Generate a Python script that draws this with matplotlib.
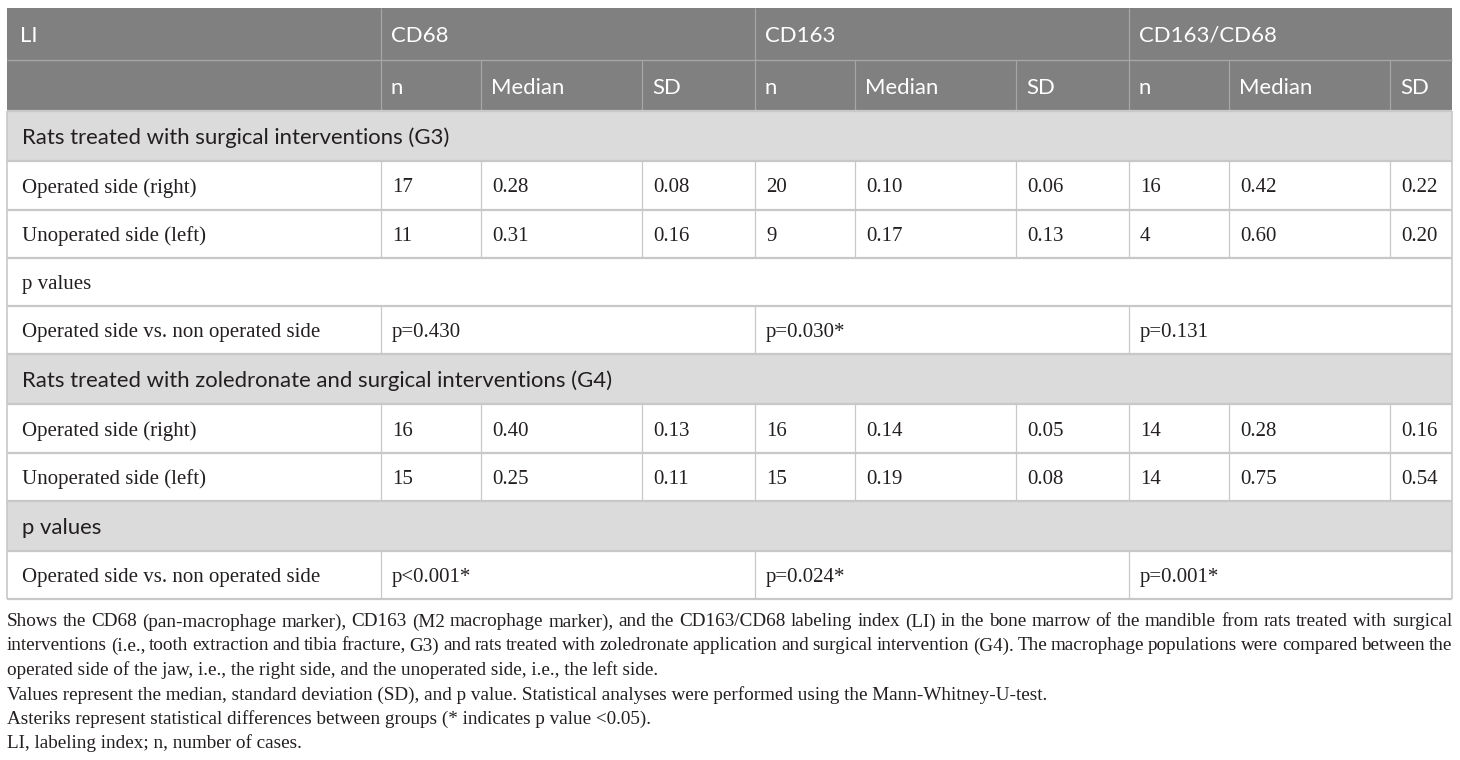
import matplotlib
matplotlib.use('Agg')
import matplotlib.pyplot as plt
from matplotlib import font_manager
from matplotlib.font_manager import FontProperties
from matplotlib.textpath import TextPath

# ---- table content ----
groups = ['CD68', 'CD163', 'CD163/CD68']
sub_cols = ['n', 'Median', 'SD']
row_labels = ['Operated side (right)', 'Unoperated side (left)']

g3_title = 'Rats treated with surgical interventions (G3)'
g3_n = [[17, 20, 16], [11, 9, 4]]
g3_median = [['0.28', '0.10', '0.42'], ['0.31', '0.17', '0.60']]
g3_sd = [['0.08', '0.06', '0.22'], ['0.16', '0.13', '0.20']]
g3_p = ['p=0.430', 'p=0.030*', 'p=0.131']

g4_title = 'Rats treated with zoledronate and surgical interventions (G4)'
g4_n = [[16, 16, 14], [15, 15, 14]]
g4_median = [['0.40', '0.14', '0.28'], ['0.25', '0.19', '0.75']]
g4_sd = [['0.13', '0.05', '0.16'], ['0.11', '0.08', '0.54']]
g4_p = ['p<0.001*', 'p=0.024*', 'p=0.001*']

p_label = 'p values'
cmp_label = 'Operated side vs. non operated side'

caption = [
    'Shows the CD68 (pan-macrophage marker), CD163 (M2 macrophage marker), and the CD163/CD68 labeling index (LI) in the bone marrow of the mandible from rats treated with surgical',
    'interventions (i.e., tooth extraction and tibia fracture, G3) and rats treated with zoledronate application and surgical intervention (G4). The macrophage populations were compared between the',
    'operated side of the jaw, i.e., the right side, and the unoperated side, i.e., the left side.',
    'Values represent the median, standard deviation (SD), and p value. Statistical analyses were performed using the Mann-Whitney-U-test.',
    'Asteriks represent statistical differences between groups (* indicates p value <0.05).',
    'LI, labeling index; n, number of cases.',
]
justified = [True, True, False, False, False, False]

# ---- layout (pixels) ----
W, H = 1460, 760
left, right = 7, 1452
col_x = [7, 381, 481, 642, 755, 855, 1016, 1129, 1229, 1390, 1452]
row_y = [8, 60, 111, 161, 210, 258, 306, 354, 404, 453, 501, 551, 599]
cap_y = [620, 644, 668, 693, 717, 741]

HEAD_BG = '#808080'
BAND_BG = '#dbdbdb'
LINE = '#c8c8c8'
HEAD_LINE = '#a6a6a6'
TXT = '#231f20'


def pick_family(candidates):
    names = {f.name for f in font_manager.fontManager.ttflist}
    for c in candidates:
        if c in names:
            return c
    return candidates[-1]


SANS = pick_family(['Liberation Sans Narrow', 'Lato', 'Open Sans'])
SERIF = 'Liberation Serif'


def fit_size(s, family, target_px):
    # font size (pt) that gives the text a given width in pixels at dpi 100
    w = TextPath((0, 0), s, size=100, prop=FontProperties(family=family)).get_extents().width
    return target_px * 72.0 / 100.0 / (w / 100.0)


sans_fs = fit_size(g4_title, SANS, 588)
serif_fs = fit_size(cmp_label, SERIF, 296)
cap_fs = fit_size(caption[3], SERIF, 1040)

fig = plt.figure(figsize=(W / 100, H / 100), dpi=100)
ax = fig.add_axes([0, 0, 1, 1])
ax.set_xlim(0, W)
ax.set_ylim(H, 0)
ax.axis('off')


def fill(y0, y1, color, x0=left, x1=right):
    ax.fill_between([x0, x1], y0, y1, color=color, lw=0, zorder=0)


def hline(y, color=LINE, lw=1.6, x0=left, x1=right):
    ax.plot([x0, x1], [y, y], color=color, lw=lw, zorder=2, solid_capstyle='butt')


def vline(x, y0, y1, color=LINE, lw=0.9):
    ax.plot([x, x], [y0, y1], color=color, lw=lw, zorder=2, solid_capstyle='butt')


def cell_text(col, r, s, family=SERIF, size=None, color=TXT, pad=11):
    if size is None:
        size = serif_fs
    y = (row_y[r] + row_y[r + 1]) / 2.0
    ax.text(col_x[col] + pad, y, s, family=family, fontsize=size, color=color,
            ha='left', va='center_baseline', zorder=3)


# header
fill(row_y[0], row_y[2], HEAD_BG)
hline(row_y[1], color=HEAD_LINE, lw=1.0)
for c in (1, 4, 7):
    vline(col_x[c], row_y[0], row_y[2], color=HEAD_LINE)
for c in (2, 3, 5, 6, 8, 9):
    vline(col_x[c], row_y[1], row_y[2], color=HEAD_LINE)
cell_text(0, 0, 'LI', family=SANS, size=sans_fs, color='white', pad=13)
for i, g in enumerate(groups):
    cell_text(1 + 3 * i, 0, g, family=SANS, size=sans_fs, color='white', pad=10)
    for j, sc in enumerate(sub_cols):
        cell_text(1 + 3 * i + j, 1, sc, family=SANS, size=sans_fs, color='white', pad=10)

# band rows
for r in (2, 7, 10):
    fill(row_y[r], row_y[r + 1], BAND_BG)
cell_text(0, 2, g3_title, family=SANS, size=sans_fs, pad=15)
cell_text(0, 7, g4_title, family=SANS, size=sans_fs, pad=15)
cell_text(0, 10, p_label, family=SANS, size=sans_fs, pad=15)


def data_rows(r0, n, med, sd):
    for k in range(2):
        r = r0 + k
        cell_text(0, r, row_labels[k], pad=15)
        for i in range(3):
            cell_text(1 + 3 * i, r, str(n[k][i]))
            cell_text(2 + 3 * i, r, med[k][i])
            cell_text(3 + 3 * i, r, sd[k][i])
        for c in range(1, 10):
            vline(col_x[c], row_y[r], row_y[r + 1])


def p_row(r, pv):
    cell_text(0, r, cmp_label, pad=15)
    for i in range(3):
        cell_text(1 + 3 * i, r, pv[i])
        vline(col_x[1 + 3 * i], row_y[r], row_y[r + 1])


data_rows(3, g3_n, g3_median, g3_sd)
cell_text(0, 5, p_label, pad=15)
p_row(6, g3_p)
data_rows(8, g4_n, g4_median, g4_sd)
p_row(11, g4_p)

# horizontal rules and outer frame
for r in range(2, len(row_y)):
    hline(row_y[r])
vline(left, row_y[2], row_y[-1], color=LINE, lw=1.2)
vline(right, row_y[2], row_y[-1], color=LINE, lw=1.2)

# caption
fig.canvas.draw()
renderer = fig.canvas.get_renderer()
for line, y, just in zip(caption, cap_y, justified):
    if not just:
        ax.text(left, y, line, family=SERIF, fontsize=cap_fs, color=TXT,
                ha='left', va='center_baseline')
        continue
    words = line.split(' ')
    widths = []
    for wd in words:
        t = ax.text(0, 0, wd, family=SERIF, fontsize=cap_fs)
        widths.append(t.get_window_extent(renderer).width)
        t.remove()
    gap = (right - left - sum(widths)) / (len(words) - 1)
    x = left
    for wd, w in zip(words, widths):
        ax.text(x, y, wd, family=SERIF, fontsize=cap_fs, color=TXT,
                ha='left', va='center_baseline')
        x += w + gap

fig.savefig('out.png', dpi=100, facecolor='white')
